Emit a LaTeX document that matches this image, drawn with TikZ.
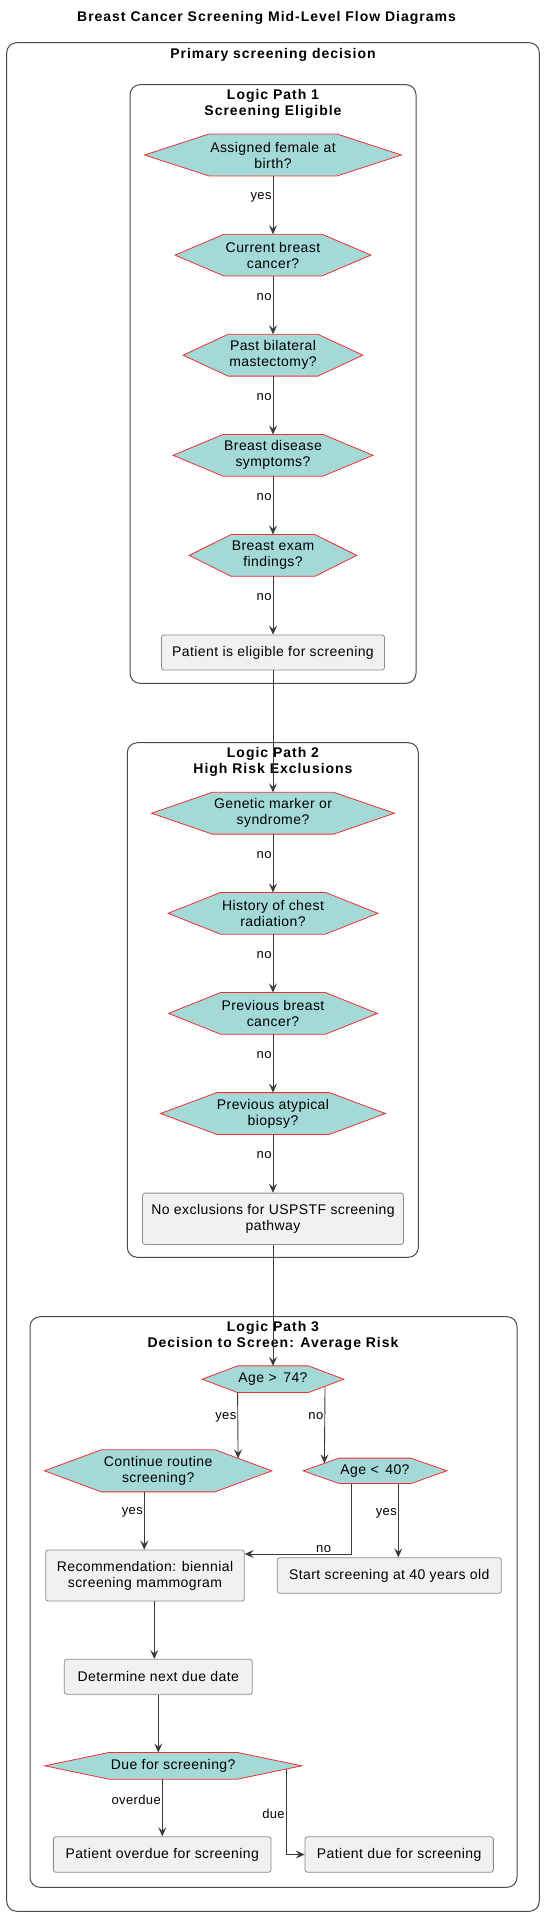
\documentclass[tikz,border=0pt]{standalone}
\usepackage{fontspec}
\setmainfont{Liberation Sans}[LetterSpace=3]
\newfontfamily\headfont{Liberation Sans}[LetterSpace=7]
\usetikzlibrary{positioning, arrows.meta, calc}
\pgfdeclarelayer{background}
\pgfsetlayers{background,main}
\definecolor{hexfill}{HTML}{A3D9D7}
\definecolor{hexline}{HTML}{F03030}
\definecolor{boxfill}{HTML}{F1F1F1}
\definecolor{boxline}{HTML}{8C8C8C}
\definecolor{frameline}{HTML}{4A4A4A}
\definecolor{arrowline}{HTML}{3A3A3A}
\tikzset{
  decision/.style={
    rectangle,
    inner xsep=0pt,
    inner ysep=2pt,
    minimum height=41.4pt,
    align=center,
    font=\fontsize{14}{16}\selectfont
  },
  action/.style={
    draw=boxline,
    fill=boxfill,
    line width=0.8pt,
    rectangle,
    rounded corners=2.5pt,
    minimum height=35pt,
    inner xsep=6pt,
    align=center,
    font=\fontsize{14}{16}\selectfont
  },
  hexedge/.style={draw=hexline, fill=hexfill, line width=0.8pt},
  groupframe/.style={draw=frameline, line width=1pt, rounded corners=10pt},
  grouptitle/.style={align=center, inner sep=0pt, font=\headfont\bfseries\fontsize{14}{16}\selectfont},
  flow/.style={draw=arrowline, line width=0.9pt, -{Stealth[length=9pt, width=8pt, inset=3.5pt]}},
  elabel/.style={anchor=east, inner sep=1pt, font=\fontsize{13}{15}\selectfont}
}
\begin{document}
\begin{tikzpicture}[x=1pt, y=-1pt]
  \useasboundingbox (0,0) rectangle (546,1916);

  % titles and frames
  \node[grouptitle] (title) at (266.5,18) {Breast Cancer Screening Mid-Level Flow Diagrams};
  \draw[groupframe] (6.7,42.7) rectangle (539.3,1911.3);
  \node[grouptitle] (primary) at (273,54.7) {Primary screening decision};
  \draw[groupframe] (130,84.7) rectangle (416,683.3);
  \node[grouptitle] (path1) at (273,103.5) {Logic Path 1\\Screening Eligible};
  \draw[groupframe] (127.3,742.7) rectangle (418.3,1257.3);
  \node[grouptitle] (path2) at (273,761.8) {Logic Path 2\\High Risk Exclusions};
  \draw[groupframe] (30,1316.7) rectangle (517,1887.3);
  \node[grouptitle] (path3) at (273,1336.2) {Logic Path 3\\Decision to Screen: Average Risk};

  % logic path 1
  \node[decision, minimum width=128pt] (afab) at (273,155) {Assigned female at\\birth?};
  \node[decision, minimum width=97.5pt, below=58.3pt of afab] (cbc) {Current breast\\cancer?};
  \node[decision, minimum width=89.5pt, below=58.3pt of cbc] (pbm) {Past bilateral\\mastectomy?};
  \node[decision, minimum width=99.5pt, below=58.3pt of pbm] (bds) {Breast disease\\symptoms?};
  \node[decision, minimum width=83.3pt, below=58.3pt of bds] (bef) {Breast exam\\findings?};
  \node[action, minimum width=223pt, below=58.3pt of bef] (elig) {Patient is eligible for screening};

  % logic path 2
  \node[decision, minimum width=121pt] (gen) at (273,813.2) {Genetic marker or\\syndrome?};
  \node[decision, minimum width=104.5pt, below=58.3pt of gen] (hist) {History of chest\\radiation?};
  \node[decision, minimum width=104pt, below=58.3pt of hist] (prevb) {Previous breast\\cancer?};
  \node[decision, minimum width=110.5pt, below=58.3pt of prevb] (atyp) {Previous atypical\\biopsy?};
  \node[action, minimum width=261pt, minimum height=51.3pt, below=58.3pt of atyp] (noexc) {No exclusions for USPSTF screening\\pathway};

  % logic path 3
  \node[decision, minimum width=70.4pt, minimum height=26.3pt] (a74) at (273,1379.2) {Age > \,74?};
  \node[decision, minimum width=113.3pt, minimum height=41.7pt] (cont) at (158.2,1470.8) {Continue routine\\screening?};
  \node[decision, minimum width=71.4pt, minimum height=25pt] (a40) at (375,1470.8) {Age < \,40?};
  \node[action, minimum width=198.6pt, minimum height=51pt] (rec) at (145,1575.5) {Recommendation: biennial\\screening mammogram};
  \node[action, minimum width=224pt, minimum height=35.6pt] (start) at (389.3,1575.5) {Start screening at 40 years old};
  \node[action, minimum width=188pt] (det) at (158.3,1676.8) {Determine next due date};
  \node[decision, minimum width=128pt, minimum height=26.3pt] (due) at (173.2,1765.8) {Due for screening?};
  \node[action, minimum width=217.7pt, minimum height=35.6pt] (over) at (162.2,1854.5) {Patient overdue for screening};
  \node[action, minimum width=188.3pt, minimum height=35.6pt] (duebox) at (399.2,1854.5) {Patient due for screening};

  % hexagon outlines behind the decision texts
  \begin{pgfonlayer}{background}
    \foreach \n in {afab, cbc, pbm, bds, bef, gen, hist, prevb, atyp, a74, cont, a40, due} {
      \coordinate (\n-w) at ($(\n.east)!1.5!(\n.west)$);
      \coordinate (\n-e) at ($(\n.west)!1.5!(\n.east)$);
      \draw[hexedge] (\n-w) -- (\n.north west) -- (\n.north east) -- (\n-e) -- (\n.south east) -- (\n.south west) -- cycle;
    }
  \end{pgfonlayer}

  % connectors
  \draw[flow] (afab) -- node[elabel, pos=.36] {yes} (cbc);
  \draw[flow] (cbc) -- node[elabel, pos=.36] {no} (pbm);
  \draw[flow] (pbm) -- node[elabel, pos=.36] {no} (bds);
  \draw[flow] (bds) -- node[elabel, pos=.36] {no} (bef);
  \draw[flow] (bef) -- node[elabel, pos=.36] {no} (elig);
  \draw[flow] (elig) -- (gen);
  \draw[flow] (gen) -- node[elabel, pos=.36] {no} (hist);
  \draw[flow] (hist) -- node[elabel, pos=.36] {no} (prevb);
  \draw[flow] (prevb) -- node[elabel, pos=.36] {no} (atyp);
  \draw[flow] (atyp) -- node[elabel, pos=.36] {no} (noexc);
  \draw[flow] (noexc) -- (a74);

  \coordinate (a40yes) at ([xshift=23.3pt]a40.south);
  \coordinate (a40no) at ([xshift=-23.3pt]a40.south);
  \coordinate (contyes) at ([xshift=-13.9pt]cont.south);
  \coordinate (recout) at ([xshift=9.3pt]rec.south);
  \coordinate (dueover) at ([xshift=-10.9pt]due.south);
  \draw[flow] (a74.south west) -- node[elabel, pos=.37] {yes} ($(cont.north east)!.405!(cont-e)$);
  \draw[flow] ($(a74.south east)!.47!(a74-e)$) -- node[elabel, pos=.39] {no} ($(a40.north west)!.41!(a40-w)$);
  \draw[flow] (contyes) -- node[elabel, pos=.36] {yes} (contyes |- rec.north);
  \draw[flow] (a40yes) -- node[elabel, pos=.4] {yes} (a40yes |- start.north);
  \draw[flow] (a40no) |- node[elabel, anchor=south east, pos=.59] {no} ([yshift=21.5pt]rec.east);
  \draw[flow] (recout) -- (recout |- det.north);
  \draw[flow] (det.south) -- (det.south |- due.north);
  \draw[flow] (dueover) -- node[elabel, pos=.36] {overdue} (dueover |- over.north);
  \draw[flow] ($(due.south east)!.76!(due-e)$) |- node[elabel, pos=.26] {due} (duebox.west);
\end{tikzpicture}
\end{document}
